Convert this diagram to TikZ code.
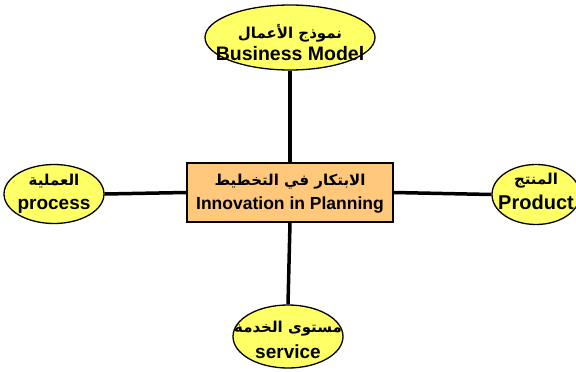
\documentclass[tikz,border=0pt]{standalone}
\usepackage{fontspec}
\setmainfont{Liberation Sans}
\newfontfamily\arabicfont[Script=Arabic]{DejaVu Sans}
\TeXXeTstate=1
\usetikzlibrary{shapes.geometric}
\definecolor{ellfill}{RGB}{255,255,102}
\definecolor{boxfill}{RGB}{255,200,122}
\tikzset{
  ell/.style={ellipse, draw=black, line width=1.3pt, fill=ellfill, inner sep=0pt},
  centerbox/.style={rectangle, draw=black, line width=1.5pt, fill=boxfill, inner sep=0pt},
  label/.style={inner sep=0pt, align=center, font=\bfseries},
  conn/.style={line width=3.5pt, black},
}
\newcommand{\AR}[1]{{\arabicfont\bfseries\fontsize{15}{17}\selectfont\beginR #1\endR}}
\newcommand{\EN}[2]{{\fontsize{#1}{#1}\selectfont #2}}
\begin{document}
\begin{tikzpicture}[x=1pt,y=-1pt]
\useasboundingbox (0,0) rectangle (576,372);
\clip (0,0) rectangle (576,372);
\node[centerbox, minimum width=206pt, minimum height=59pt] (rect) at (290,192.5) {};
\node[ell, minimum width=170pt, minimum height=65pt] (top) at (290,37.5) {};
\node[ell, minimum width=100pt, minimum height=59pt] (left) at (54,194) {};
\node[ell, minimum width=88pt, minimum height=60pt] (right) at (536,194.5) {};
\node[ell, minimum width=110pt, minimum height=63pt] (bottom) at (288,336.5) {};
\node[label] (rectt) at ([yshift=-1pt]rect.center)
  {\AR{الابتكار في التخطيط}\\[6pt]\EN{17.5}{Innovation in Planning}};
\node[label] (topt) at ([yshift=-5pt]top.center)
  {\AR{نموذج الأعمال}\\[4pt]\EN{19.5}{Business Model}};
\node[label] (leftt) at ([yshift=0pt]left.center)
  {\AR{العملية}\\[10pt]\EN{19}{process}};
\node[label] (rightt) at ([yshift=3pt]right.center)
  {\AR{المنتج}\\[6pt]\EN{20}{Product}};
\node[label] (bottomt) at ([yshift=-3.5pt]bottom.center)
  {\AR{مستوى الخدمة}\\[7pt]\EN{19}{service}};
\draw[conn] (top.south) -- (rect.north);
\draw[conn] (rect.south) -- (bottom.north);
\draw[conn] (left.east) -- (rect.west);
\draw[conn] (rect.east) -- (right.west);
\end{tikzpicture}
\end{document}
